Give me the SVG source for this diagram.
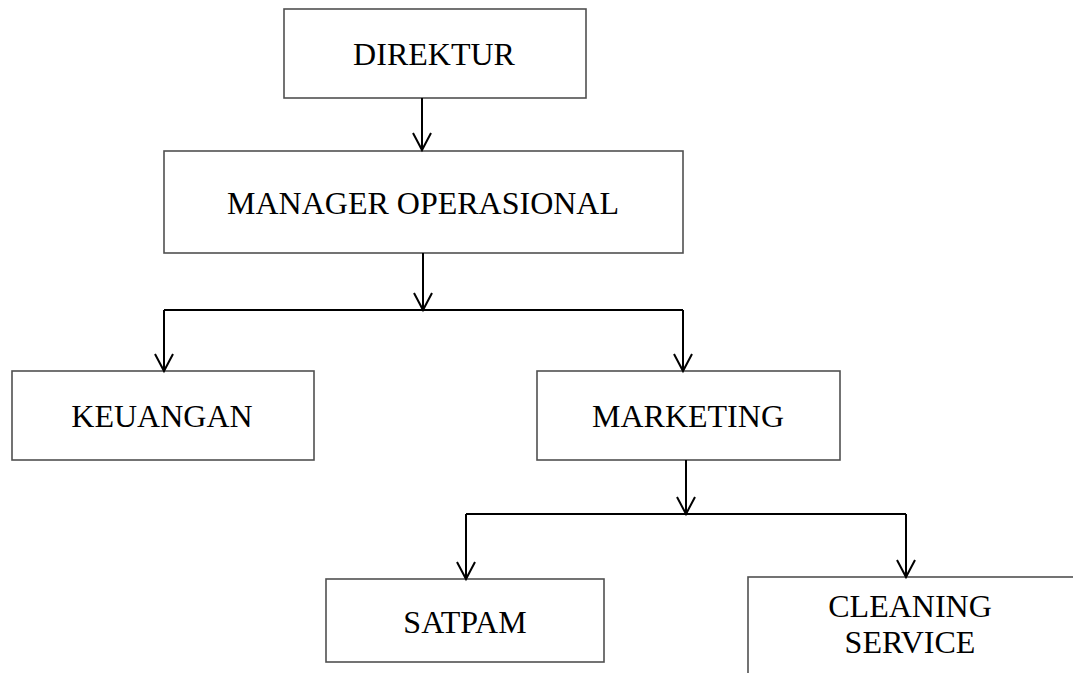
<svg xmlns="http://www.w3.org/2000/svg" width="1073" height="673" viewBox="0 0 1073 673">
<style>
.box{fill:#fff;stroke:#505050;stroke-width:1.6}
.lbl{font-family:"Liberation Serif","Times New Roman",serif;font-size:32px;fill:#000;text-anchor:middle}
.con{fill:none;stroke:#000;stroke-width:2}
</style>
<defs>
<marker id="v" markerUnits="userSpaceOnUse" viewBox="-18 -10 19 20" refX="0" refY="0" markerWidth="19" markerHeight="20" orient="auto" overflow="visible">
<path d="M-17,-9 L0,0 L-17,9" fill="none" stroke="#000" stroke-width="2"/>
</marker>
</defs>
<rect width="1073" height="673" fill="#fff"/>
<g id="direktur"><rect class="box" x="284" y="9" width="302" height="89"/><text class="lbl" x="434" y="65">DIREKTUR</text></g>
<g id="manager"><rect class="box" x="164" y="151" width="519" height="102"/><text class="lbl" x="423" y="214">MANAGER OPERASIONAL</text></g>
<g id="keuangan"><rect class="box" x="12" y="371" width="302" height="89"/><text class="lbl" x="162" y="427">KEUANGAN</text></g>
<g id="marketing"><rect class="box" x="537" y="371" width="303" height="89"/><text class="lbl" x="688" y="427">MARKETING</text></g>
<g id="satpam"><rect class="box" x="326" y="579" width="278" height="83"/><text class="lbl" x="465" y="633">SATPAM</text></g>
<g id="cleaning"><rect class="box" x="748" y="577" width="340" height="110"/><text class="lbl" x="910" y="617">CLEANING</text><text class="lbl" x="910" y="653">SERVICE</text></g>
<g id="connectors">
<path class="con" d="M422,98 V150" marker-end="url(#v)"/>
<path class="con" d="M423,253 V310" marker-end="url(#v)"/>
<path class="con" d="M164,310 H683"/>
<path class="con" d="M164,310 V371" marker-end="url(#v)"/>
<path class="con" d="M683,310 V371" marker-end="url(#v)"/>
<path class="con" d="M686,460 V514" marker-end="url(#v)"/>
<path class="con" d="M466,514 H906"/>
<path class="con" d="M466,514 V579" marker-end="url(#v)"/>
<path class="con" d="M906,514 V577" marker-end="url(#v)"/>
</g>
</svg>
